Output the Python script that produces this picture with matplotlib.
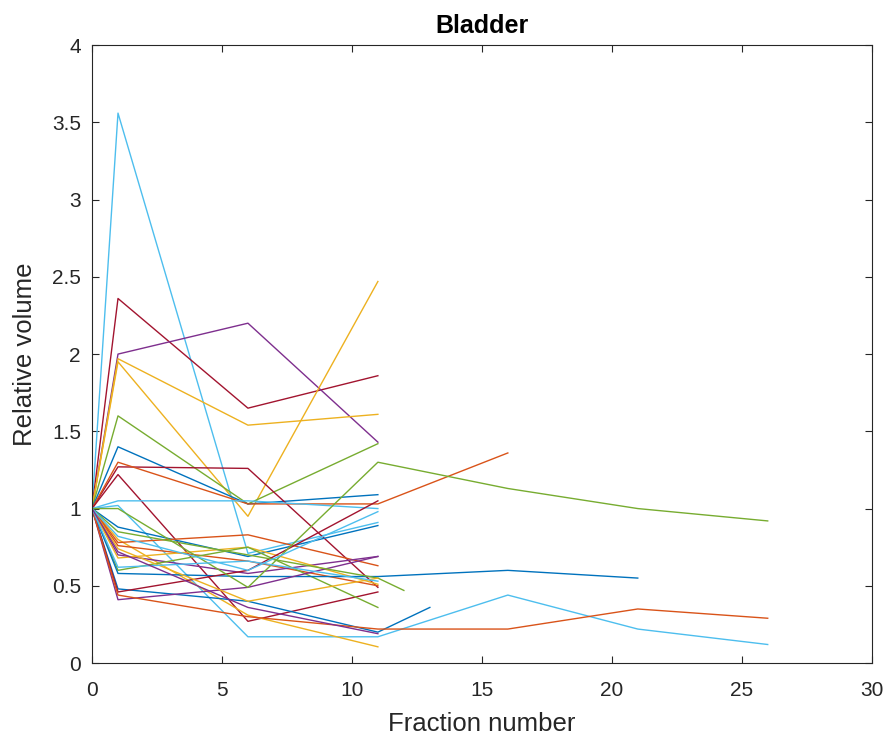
"""Relative bladder volume per fraction, one line per patient."""

import matplotlib

matplotlib.use("Agg")
import matplotlib.pyplot as plt

# MATLAB default colour order
BLUE = "#0072BD"
ORANGE = "#D95319"
YELLOW = "#EDB120"
PURPLE = "#7E2F8E"
GREEN = "#77AC30"
CYAN = "#4DBEEE"
MAROON = "#A2142F"

# fractions at which each patient was scanned, and relative volumes
x_short = [0, 1, 6, 11]

patients = [
    (x_short, [1, 3.56, 0.71, 0.91], CYAN),
    (x_short, [1, 2.36, 1.65, 1.86], MAROON),
    (x_short, [1, 2.00, 2.20, 1.43], PURPLE),
    (x_short, [1, 1.97, 1.54, 1.61], YELLOW),
    (x_short, [1, 1.95, 0.95, 2.47], YELLOW),
    (x_short, [1, 1.60, 1.03, 1.42], GREEN),
    (x_short, [1, 1.40, 1.03, 1.09], BLUE),
    (x_short, [1, 1.27, 1.26, 0.49], MAROON),
    ([0, 1, 6, 11, 16], [1, 1.30, 1.03, 1.03, 1.36], ORANGE),
    (x_short, [1, 1.22, 0.27, 0.46], MAROON),
    (x_short, [1, 1.05, 1.05, 1.00], CYAN),
    ([0, 1, 6, 11, 16, 21, 26], [1, 1.02, 0.17, 0.17, 0.44, 0.22, 0.12], CYAN),
    (x_short, [1, 0.88, 0.69, 0.89], BLUE),
    (x_short, [1, 0.80, 0.31, 0.105], YELLOW),
    (x_short, [1, 0.78, 0.83, 0.63], ORANGE),
    (x_short, [1, 0.76, 0.66, 0.50], ORANGE),
    (x_short, [1, 0.70, 0.58, 0.69], PURPLE),
    (x_short, [1, 0.68, 0.75, 0.51], YELLOW),
    (x_short, [1, 0.60, 0.75, 0.36], GREEN),
    ([0, 1, 6, 11, 16, 21], [1, 0.58, 0.56, 0.56, 0.60, 0.55], BLUE),
    ([0, 1, 6, 11, 13], [1, 0.48, 0.40, 0.20, 0.36], BLUE),
    (x_short, [1, 0.46, 0.60, 1.05], MAROON),
    (x_short, [1, 0.41, 0.49, 0.69], PURPLE),
    ([0, 1, 6, 11, 16, 21, 26], [1, 0.44, 0.30, 0.22, 0.22, 0.35, 0.29], ORANGE),
    ([0, 1, 6, 11, 16, 21, 26], [1, 1.00, 0.49, 1.30, 1.13, 1.00, 0.92], GREEN),
    ([0, 1, 6, 11, 12], [1, 0.85, 0.70, 0.55, 0.47], GREEN),
    (x_short, [1, 0.74, 0.40, 0.55], YELLOW),
    (x_short, [1, 0.82, 0.60, 0.98], CYAN),
    (x_short, [1, 0.62, 0.66, 0.53], CYAN),
    (x_short, [1, 0.72, 0.36, 0.19], PURPLE),
]

plt.rcParams["font.family"] = ["Liberation Sans", "DejaVu Sans"]

fig = plt.figure(figsize=(8.89, 7.40), dpi=100)
ax = fig.add_axes([0.1035, 0.104, 0.877, 0.835])

for xs, ys, colour in patients:
    ax.plot(xs, ys, "-", color=colour, linewidth=1.0)

ax.set_xlim(0, 30)
ax.set_ylim(0, 4)
ax.set_xticks([0, 5, 10, 15, 20, 25, 30])
ax.set_yticks([0, 0.5, 1, 1.5, 2, 2.5, 3, 3.5, 4])
ax.set_yticklabels(["0", "0.5", "1", "1.5", "2", "2.5", "3", "3.5", "4"])

axis_grey = "#262626"
for spine in ax.spines.values():
    spine.set_color(axis_grey)
    spine.set_linewidth(0.8)
ax.tick_params(
    direction="in", top=True, right=True, length=5, width=0.8,
    colors=axis_grey, labelsize=15,
)
ax.tick_params(axis="x", pad=13)
ax.tick_params(axis="y", pad=8)
ax.set_xlabel("Fraction number", fontsize=18.5, color=axis_grey)
ax.set_ylabel("Relative volume", fontsize=18.5, color=axis_grey)
ax.xaxis.set_label_coords(0.5, -0.080)
ax.yaxis.set_label_coords(-0.071, 0.5)
ax.set_title("Bladder", fontsize=18, fontweight="bold", pad=9)

fig.savefig("out.png", dpi=100)
plt.close(fig)
